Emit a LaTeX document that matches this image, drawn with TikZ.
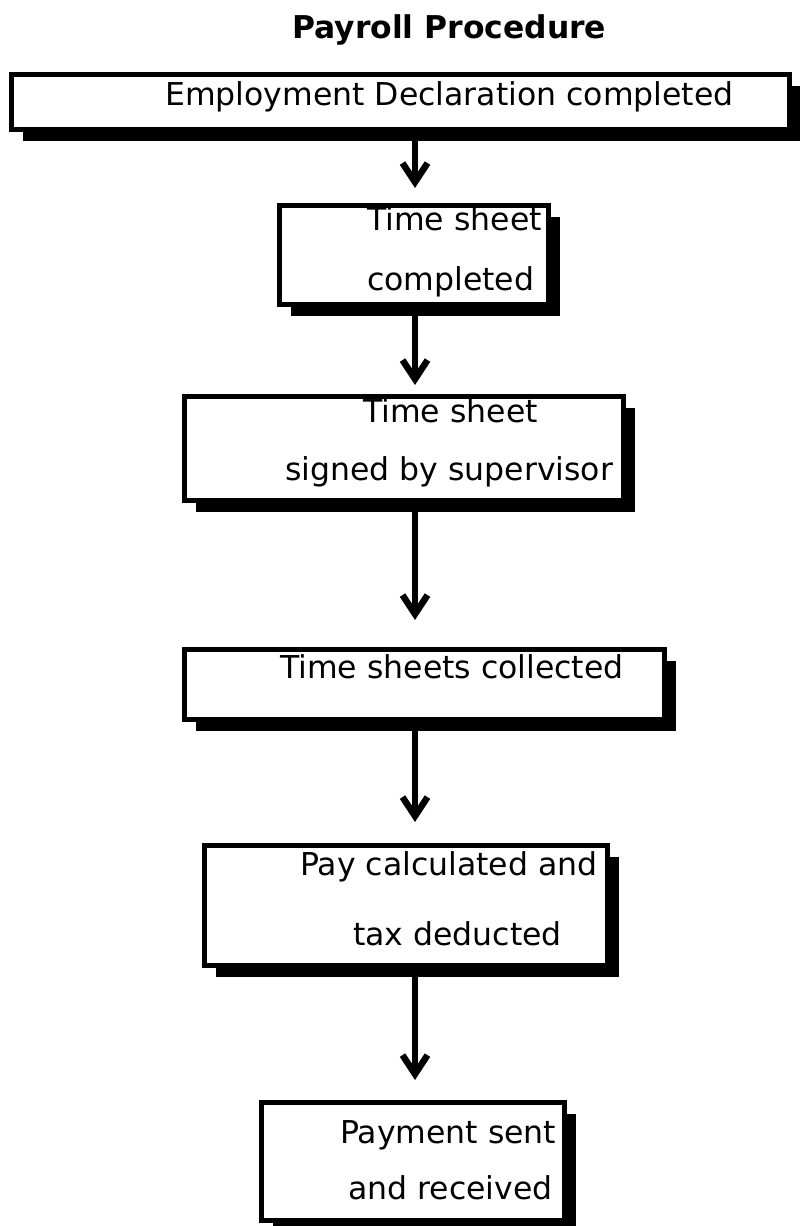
\documentclass[tikz,border=0pt]{standalone}
\usepackage{fontspec}
\setmainfont{DejaVu Sans}
\usetikzlibrary{arrows.meta}
\usetikzlibrary{shadows}
\tikzset{>={Straight Barb[length=19pt,width=25pt,line width=6.5pt]}}
\tikzset{
  stepbox/.style={draw, line width=5pt, fill=white, inner sep=0pt,
    drop shadow={shadow xshift=11pt, shadow yshift=-11pt, fill=black, opacity=1}},
  steptext/.style={inner sep=0pt, font=\fontsize{31.5}{38}\selectfont},
  flow/.style={->, line width=5.5pt},
}

\begin{document}
\begin{tikzpicture}[x=1pt, y=-1pt]
      \useasboundingbox (0,0) rectangle (800,1226);
      % title
      \node[anchor=base west, inner sep=0pt, font=\bfseries\fontsize{31.4}{38}\selectfont] (title) at (292,38) {Payroll Procedure};
      % boxes
      \node[stepbox, minimum width=778pt, minimum height=55pt] (decl) at (400.5,102) {};
      \node[stepbox, minimum width=269pt, minimum height=99pt] (sheet) at (414,255) {};
      \node[stepbox, minimum width=439pt, minimum height=104pt] (signed) at (404,448.5) {};
      \node[stepbox, minimum width=480pt, minimum height=70pt] (collect) at (424.5,684.5) {};
      \node[stepbox, minimum width=403pt, minimum height=120pt] (calc) at (406,905.5) {};
      \node[stepbox, minimum width=303pt, minimum height=118pt] (paid) at (413,1161.5) {};
      % texts
      \node[steptext, anchor=base west] (decl-a) at (165,105) {Employment Declaration completed};
      \node[steptext, anchor=base west] (sheet-a) at (367,230) {Time sheet};
      \node[steptext, anchor=base west] (sheet-b) at (367,290) {completed};
      \node[steptext, anchor=base west] (signed-a) at (363,422) {Time sheet};
      \node[steptext, anchor=base west] (signed-b) at (285,480) {signed by supervisor};
      \node[steptext, anchor=base west] (collect-a) at (280,678) {Time sheets collected};
      \node[steptext, anchor=base west] (calc-a) at (300,875) {Pay calculated and};
      \node[steptext, anchor=base west] (calc-b) at (353,945) {tax deducted};
      \node[steptext, anchor=base west] (paid-a) at (340,1143) {Payment sent};
      \node[steptext, anchor=base west] (paid-b) at (348,1199) {and received};
      % arrows
      \coordinate (tip1) at (415,188);
      \coordinate (tip2) at (415,385);
      \coordinate (tip3) at (415,620);
      \coordinate (tip4) at (415,822);
      \coordinate (tip5) at (415,1080);
      \draw[flow] (decl.south -| tip1) -- (tip1);
      \draw[flow] (sheet.south -| tip2) -- (tip2);
      \draw[flow] (signed.south -| tip3) -- (tip3);
      \draw[flow] (collect.south -| tip4) -- (tip4);
      \draw[flow] (calc.south -| tip5) -- (tip5);
    \end{tikzpicture}
\end{document}
